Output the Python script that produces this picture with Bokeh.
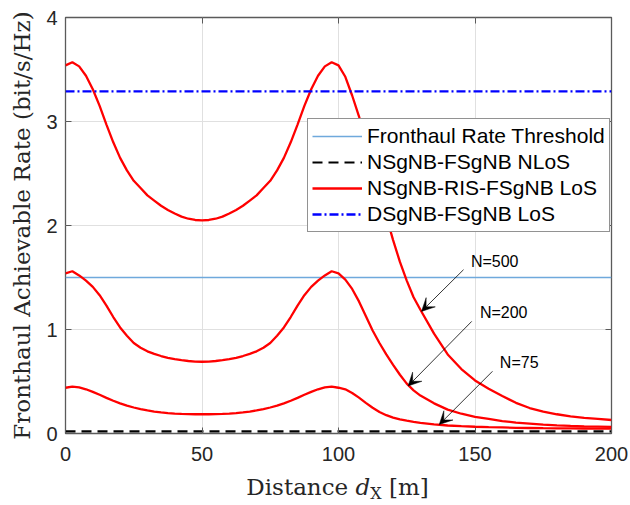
from bokeh.plotting import figure
from bokeh.layouts import column
from bokeh.models import (Range1d, LinearAxis, FixedTicker, Legend, LegendItem,
                          Label, Arrow, VeeHead, Div)
from bokeh.embed import file_html
from bokeh.resources import INLINE

# ---------------- data ----------------
dist = [0, 2.5, 5, 7.5, 10, 12.5, 15, 17.5, 20, 22.5, 25, 27.5, 30, 32.5, 35, 37.5,
        40, 42.5, 45, 47.5, 50, 52.5, 55, 57.5, 60, 62.5, 65, 67.5, 70, 72.5, 75,
        77.5, 80, 82.5, 85, 87.5, 90, 92.5, 95, 97.5, 100, 102.5, 105, 107.5, 110,
        112.5, 115, 117.5, 120, 122.5, 125, 127.5, 130, 135, 140, 145, 150, 155,
        160, 165, 170, 175, 180, 185, 190, 195, 200]

rate_n500 = [3.54, 3.57, 3.53, 3.44, 3.31, 3.15, 2.97, 2.80, 2.65, 2.53, 2.43, 2.36,
             2.29, 2.24, 2.19, 2.15, 2.115, 2.085, 2.065, 2.053, 2.05,
             2.053, 2.065, 2.085, 2.115, 2.15, 2.19, 2.24, 2.29, 2.36, 2.43, 2.53,
             2.65, 2.80, 2.97, 3.15, 3.31, 3.44, 3.53, 3.57, 3.54,
             3.43, 3.25, 3.05, 2.82, 2.58, 2.33, 2.09, 1.86, 1.65, 1.47, 1.31, 1.19,
             0.96, 0.76, 0.62, 0.51, 0.43, 0.36, 0.295, 0.245, 0.21, 0.185, 0.165,
             0.15, 0.14, 0.13]

rate_n200 = [1.54, 1.56, 1.52, 1.47, 1.41, 1.33, 1.23, 1.12, 1.02, 0.94, 0.87, 0.825,
             0.79, 0.765, 0.745, 0.728, 0.715, 0.705, 0.697, 0.692, 0.69,
             0.692, 0.697, 0.705, 0.715, 0.728, 0.745, 0.765, 0.79, 0.825, 0.87,
             0.94, 1.02, 1.12, 1.23, 1.33, 1.41, 1.47, 1.52, 1.56, 1.54,
             1.48, 1.39, 1.27, 1.13, 0.99, 0.87, 0.76, 0.66, 0.565, 0.48, 0.415,
             0.365, 0.29, 0.23, 0.19, 0.16, 0.14, 0.12, 0.105, 0.095, 0.085, 0.078,
             0.073, 0.069, 0.066, 0.063]

rate_n75 = [0.44, 0.45, 0.443, 0.425, 0.40, 0.372, 0.343, 0.315, 0.29, 0.268, 0.25,
            0.235, 0.222, 0.211, 0.203, 0.196, 0.191, 0.188, 0.186, 0.185, 0.185,
            0.185, 0.186, 0.188, 0.191, 0.196, 0.203, 0.211, 0.222, 0.235, 0.25,
            0.268, 0.29, 0.315, 0.343, 0.372, 0.40, 0.425, 0.443, 0.45, 0.44,
            0.425, 0.39, 0.345, 0.295, 0.248, 0.207, 0.176, 0.153, 0.136, 0.123,
            0.112, 0.103, 0.088, 0.077, 0.07, 0.065, 0.061, 0.058, 0.055, 0.053,
            0.051, 0.05, 0.049, 0.048, 0.047, 0.046]

threshold_rate = 1.5
nlos_rate = 0.02
dsgnb_los_rate = 3.29

x_ticks = [0, 50, 100, 150, 200]
y_ticks = [0, 1, 2, 3, 4]

legend_labels = ["Fronthaul Rate Threshold", "NSgNB-FSgNB NLoS",
                 "NSgNB-RIS-FSgNB LoS", "DSgNB-FSgNB LoS"]

ann_text = ["N=500", "N=200", "N=75"]
ann_x = [148.5, 151.8, 159.1]
ann_y = [1.657, 1.168, 0.678]
arrow_x0 = [145.8, 148.8, 156.4]
arrow_y0 = [1.575, 1.078, 0.598]
arrow_x1 = [130.4, 125.5, 136.9]
arrow_y1 = [1.174, 0.457, 0.086]

# ---------------- figure ----------------
TXT = "#262626"
p = figure(width=630, height=470, output_backend="svg", toolbar_location=None,
           x_range=Range1d(0, 200), y_range=Range1d(0, 4),
           min_border_left=65, min_border_right=19, min_border_top=17,
           min_border_bottom=37)
p.background_fill_color = "white"
p.border_fill_color = "white"
p.outline_line_color = "#5a5a5a"
p.outline_line_width = 1.3

for ax, ticks in ((p.xaxis, x_ticks), (p.yaxis, y_ticks)):
    ax.ticker = FixedTicker(ticks=ticks)
    ax.major_label_text_font = "Liberation Sans"
    ax.major_label_text_font_size = "20px"
    ax.major_label_text_color = TXT
    ax.major_tick_in = 6
    ax.major_tick_out = 0
    ax.major_tick_line_color = "#5a5a5a"
    ax.minor_tick_line_color = None
    ax.axis_line_color = None

p.xaxis.major_label_standoff = 13
p.yaxis.major_label_standoff = 8
p.yaxis.axis_label = "Fronthaul Achievable Rate (bit/s/Hz)"
p.yaxis.axis_label_text_font = "DejaVu Serif"
p.yaxis.axis_label_text_font_style = "normal"
p.yaxis.axis_label_text_font_size = "23px"
p.yaxis.axis_label_text_color = TXT
p.yaxis.axis_label_standoff = 8

# box ticks on top and right (no labels)
for place, ticks in (("above", x_ticks), ("right", y_ticks)):
    a = LinearAxis(ticker=FixedTicker(ticks=ticks), major_label_text_color=None,
                   major_label_text_font_size="1px",
                   major_tick_in=6, major_tick_out=0, major_tick_line_color="#5a5a5a",
                   minor_tick_line_color=None, axis_line_color=None,
                   major_label_standoff=0)
    p.add_layout(a, place)

p.xgrid.grid_line_color = "#e0e0e0"
p.ygrid.grid_line_color = "#e0e0e0"

# ---------------- lines ----------------
r_thr = p.line(dist, [threshold_rate] * len(dist), line_color="#6fa9dc", line_width=1.6)
r_nlos = p.line(dist, [nlos_rate] * len(dist), line_color="black", line_width=2.2,
                line_dash="10 6")
r500 = p.line(dist, rate_n500, line_color="#ff0000", line_width=2.3)
r200 = p.line(dist, rate_n200, line_color="#ff0000", line_width=2.3)
r75 = p.line(dist, rate_n75, line_color="#ff0000", line_width=2.3)
r_ds = p.line(dist, [dsgnb_los_rate] * len(dist), line_color="#0000ff", line_width=2.3,
              line_dash="9 3 2 3")

legend = Legend(items=[LegendItem(label=legend_labels[0], renderers=[r_thr]),
                       LegendItem(label=legend_labels[1], renderers=[r_nlos]),
                       LegendItem(label=legend_labels[2], renderers=[r500]),
                       LegendItem(label=legend_labels[3], renderers=[r_ds])],
                location=(242, 201))
legend.label_text_font = "Liberation Sans"
legend.label_text_font_size = "21px"
legend.label_text_color = "black"
legend.glyph_width = 50
legend.glyph_height = 26
legend.label_height = 26
legend.spacing = 0
legend.padding = 4
legend.margin = 0
legend.label_standoff = 5
legend.border_line_color = "#262626"
legend.border_line_width = 1
legend.background_fill_alpha = 1
p.add_layout(legend, "center")

# ---------------- annotations ----------------
for t, x, y in zip(ann_text, ann_x, ann_y):
    p.add_layout(Label(x=x, y=y, text=t, text_font="Liberation Sans",
                       text_font_size="16px", text_color="black",
                       text_align="left", text_baseline="middle"))
for xs, ys, xe, ye in zip(arrow_x0, arrow_y0, arrow_x1, arrow_y1):
    p.add_layout(Arrow(end=VeeHead(size=13, fill_color="black", line_color="black",
                                   line_width=0.5),
                       x_start=xs, y_start=ys, x_end=xe, y_end=ye,
                       line_color="black", line_width=0.8))

# x-axis label: "Distance d_X [m]" as real HTML text
xlabel_html = (
    '<div style="display:block; width:630px; box-sizing:border-box; '
    'font-family:\'DejaVu Serif\'; font-size:23px; line-height:27px; '
    'color:#262626; text-align:center; padding-left:45px; white-space:nowrap;">'
    'Distance <i>d</i><span style="font-size:16px; position:relative; top:4px;">X</span>'
    ' [m]</div>'
)
xlabel = Div(text=xlabel_html, width=630, height=30, margin=(4, 0, 0, 0),
             styles={"width": "630px", "text-align": "center"})

layout = column(p, xlabel, spacing=0)
open("out.html", "w").write(file_html(layout, INLINE))
